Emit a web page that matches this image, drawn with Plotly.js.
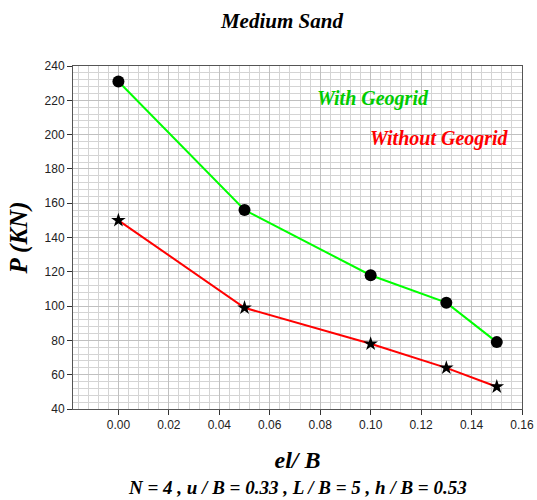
<!DOCTYPE html>
<html><head><meta charset="utf-8">
<script src="https://cdn.plot.ly/plotly-3.0.1.min.js"></script>
<style>html,body{margin:0;padding:0;background:#fff}#chart{width:537px;height:500px}</style>
</head><body><div id="chart"></div>
<script>
const elB = [0.00, 0.05, 0.10, 0.13, 0.15];
const withGeogrid = [231, 156, 118, 102, 79];
const withoutGeogrid = [150, 99, 78, 64, 53];
const xTickVals = [0.00, 0.02, 0.04, 0.06, 0.08, 0.10, 0.12, 0.14, 0.16];
const yTickVals = [40, 60, 80, 100, 120, 140, 160, 180, 200, 220, 240];

const serif = 'Liberation Serif';
const sans = 'Liberation Sans';

const traces = [
  {x: elB, y: withGeogrid, mode: 'lines+markers', name: 'With Geogrid',
   line: {color: '#00ff00', width: 2}, marker: {symbol: 'circle', size: 12, color: '#000'}},
  {x: elB, y: withoutGeogrid, mode: 'lines+markers', name: 'Without Geogrid',
   line: {color: '#ff0000', width: 2}, marker: {symbol: 'star', size: 11, color: '#000'}}
];

const layout = {
  width: 537, height: 500,
  margin: {l: 73, r: 15, t: 66, b: 91},
  paper_bgcolor: '#fff', plot_bgcolor: '#fff',
  showlegend: false,
  font: {family: sans},
  title: {text: '<b><i>Medium Sand</i></b>', x: 0.525, xanchor: 'center', y: 0.958, yanchor: 'middle',
          font: {family: serif, size: 21, color: '#000'}},
  xaxis: {
    range: [-0.018, 0.16], tickvals: xTickVals, tickformat: '.2f',
    ticks: 'outside', ticklen: 5, tickcolor: '#333',
    showline: true, linecolor: '#555', linewidth: 1, mirror: true,
    showgrid: true, gridcolor: '#c0c0c0', gridwidth: 1, zeroline: false,
    minor: {dtick: 0.004, tick0: 0, showgrid: true, gridcolor: '#d4d4d4', gridwidth: 1},
    tickfont: {family: sans, size: 12, color: '#222'},
    title: {text: '<b><i>el/ B</i></b>', standoff: 19, font: {family: serif, size: 24, color: '#000'}}
  },
  yaxis: {
    range: [40, 240], tickvals: yTickVals,
    ticks: 'outside', ticklen: 5, tickcolor: '#333',
    showline: true, linecolor: '#555', linewidth: 1, mirror: true,
    showgrid: true, gridcolor: '#c0c0c0', gridwidth: 1, zeroline: false,
    minor: {dtick: 4, tick0: 40, showgrid: true, gridcolor: '#d4d4d4', gridwidth: 1},
    tickfont: {family: sans, size: 12, color: '#222'},
    title: {text: '<b><i>P (KN)</i></b>', standoff: 9, font: {family: serif, size: 25, color: '#000'}}
  },
  annotations: [
    {x: 0.078, y: 221, xref: 'x', yref: 'y', text: '<b><i>With Geogrid</i></b>', showarrow: false,
     xanchor: 'left', yanchor: 'middle', font: {family: serif, size: 20, color: '#00cc00'}},
    {x: 0.099, y: 197.5, xref: 'x', yref: 'y', text: '<b><i>Without Geogrid</i></b>', showarrow: false,
     xanchor: 'left', yanchor: 'middle', font: {family: serif, size: 20, color: '#ff0000'}},
    {x: 0.5, y: 0, xref: 'paper', yref: 'paper', yshift: -78, showarrow: false,
     text: '<b><i>N = 4 , u / B = 0.33 , L / B = 5 , h / B = 0.53</i></b>',
     xanchor: 'center', yanchor: 'middle', font: {family: serif, size: 19, color: '#000'}}
  ]
};

Plotly.newPlot('chart', traces, layout, {displayModeBar: false, staticPlot: true});
</script></body></html>
